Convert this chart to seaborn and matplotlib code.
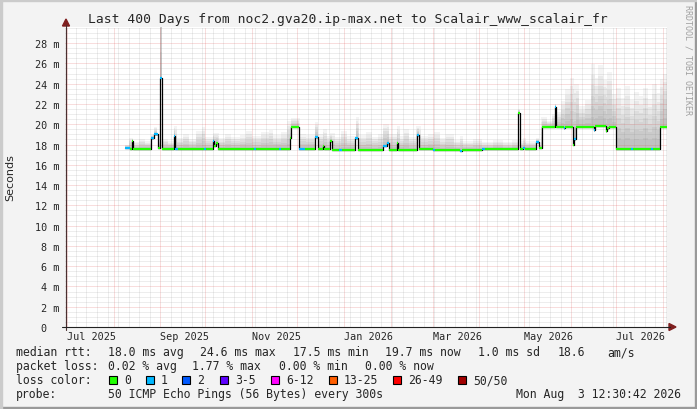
import numpy as np
import pandas as pd
import seaborn as sns
import matplotlib.pyplot as plt
import matplotlib.dates as mdates
from matplotlib.ticker import MultipleLocator, FuncFormatter
from matplotlib.lines import Line2D
from matplotlib.patches import Polygon, Rectangle

W, H = 697, 410

title = "Last 400 Days from noc2.gva20.ip-max.net to Scalair_www_scalair_fr"
t_start = "2025-06-29 12:30"
t_end = "2026-08-03 12:30"

# median rtt (ms), step-wise, with number of lost pings per step
med_time = [
    "2025-08-08 12:00", "2025-08-12 00:00", "2025-08-13 00:00", "2025-08-14 00:00",
    "2025-08-26 00:00", "2025-08-28 00:00", "2025-08-30 12:00", "2025-09-01 00:00",
    "2025-09-02 00:00", "2025-09-10 00:00", "2025-09-11 00:00", "2025-09-13 00:00",
    "2025-09-30 00:00", "2025-10-01 12:00", "2025-10-06 00:00", "2025-10-07 00:00",
    "2025-10-08 00:00", "2025-10-09 12:00", "2025-11-02 00:00", "2025-11-03 12:00",
    "2025-11-19 00:00", "2025-11-20 12:00", "2025-11-26 00:00", "2025-11-27 00:00",
    "2025-12-02 12:00", "2025-12-06 00:00", "2025-12-13 00:00", "2025-12-14 12:00",
    "2025-12-18 00:00", "2025-12-19 00:00", "2025-12-23 00:00", "2025-12-24 00:00",
    "2025-12-29 00:00", "2025-12-30 12:00", "2026-01-08 12:00", "2026-01-10 12:00",
    "2026-01-27 00:00", "2026-01-29 12:00", "2026-01-31 00:00", "2026-02-05 00:00",
    "2026-02-06 00:00", "2026-02-18 12:00", "2026-02-20 00:00", "2026-03-01 00:00",
    "2026-03-02 12:00", "2026-03-19 00:00", "2026-03-20 12:00", "2026-04-03 00:00",
    "2026-04-04 12:00", "2026-04-27 00:00", "2026-04-28 00:00", "2026-04-30 00:00",
    "2026-05-01 12:00", "2026-05-09 00:00", "2026-05-11 00:00", "2026-05-12 12:00",
    "2026-05-21 00:00", "2026-05-22 00:00", "2026-05-27 00:00", "2026-05-28 00:00",
    "2026-06-02 00:00", "2026-06-03 00:00", "2026-06-04 12:00", "2026-06-16 00:00",
    "2026-06-17 00:00", "2026-06-24 00:00", "2026-06-25 00:00", "2026-06-26 00:00",
    "2026-07-01 00:00", "2026-07-11 00:00", "2026-07-12 00:00", "2026-07-24 00:00",
    "2026-07-25 12:00", "2026-07-30 00:00", "2026-08-03 12:30",
]
med_ms = [
    17.7, 17.6, 18.3, 17.6, 18.6, 19.0, 17.7, 24.6, 17.6, 18.8, 17.6, 17.6,
    17.6, 17.6, 18.3, 17.9, 18.1, 17.6, 17.6, 17.6, 17.6, 17.6, 18.6, 19.7,
    17.6, 17.6, 18.7, 17.6, 17.9, 17.6, 18.3, 17.5, 17.5, 17.5, 18.6, 17.5,
    17.9, 18.1, 17.5, 18.1, 17.5, 18.9, 17.6, 17.5, 17.5, 17.4, 17.5, 17.6,
    17.6, 21.1, 17.6, 17.7, 17.6, 18.2, 17.7, 19.7, 21.7, 19.7, 19.6, 19.7,
    18.0, 18.5, 19.7, 19.4, 19.8, 19.3, 19.6, 19.7, 17.6, 17.6, 17.6, 17.6,
    17.6, 19.7, 19.7,
]
med_loss = [
    1, 0, 0, 0, 1, 1, 0, 1, 0, 1, 1, 0,
    1, 0, 1, 0, 0, 0, 1, 0, 1, 0, 0, 0,
    1, 0, 1, 0, 0, 0, 0, 0, 1, 0, 1, 0,
    1, 1, 0, 0, 0, 1, 0, 1, 0, 1, 0, 1,
    0, 0, 0, 1, 0, 1, 0, 0, 1, 0, 1, 0,
    0, 1, 0, 1, 0, 0, 0, 0, 0, 1, 0, 1,
    0, 0, 0,
]

# upper edge of the smoke (ms)
smoke_time = [
    "2025-08-08", "2025-08-11", "2025-08-14", "2025-08-18", "2025-08-22", "2025-08-26",
    "2025-08-28", "2025-08-30", "2025-09-01", "2025-09-02", "2025-09-06", "2025-09-10",
    "2025-09-12", "2025-09-16", "2025-09-20", "2025-09-25", "2025-09-29", "2025-10-01",
    "2025-10-06", "2025-10-10", "2025-10-14", "2025-10-18", "2025-10-24", "2025-10-28",
    "2025-11-01", "2025-11-07", "2025-11-12", "2025-11-15", "2025-11-20", "2025-11-24",
    "2025-11-27", "2025-12-03", "2025-12-07", "2025-12-13", "2025-12-15", "2025-12-18",
    "2025-12-21", "2025-12-23", "2025-12-26", "2025-12-30", "2026-01-03", "2026-01-09",
    "2026-01-11", "2026-01-16", "2026-01-20", "2026-01-24", "2026-01-27", "2026-01-31",
    "2026-02-05", "2026-02-07", "2026-02-10", "2026-02-13", "2026-02-18", "2026-02-21",
    "2026-02-26", "2026-03-02", "2026-03-06", "2026-03-10", "2026-03-15", "2026-03-19",
    "2026-03-21", "2026-03-28", "2026-04-03", "2026-04-10", "2026-04-17", "2026-04-23",
    "2026-04-27", "2026-04-28", "2026-04-30", "2026-05-02", "2026-05-09", "2026-05-11",
    "2026-05-12", "2026-05-16", "2026-05-19", "2026-05-21", "2026-05-22", "2026-05-25",
    "2026-05-28", "2026-05-31", "2026-06-03", "2026-06-06", "2026-06-10", "2026-06-14",
    "2026-06-17", "2026-06-19", "2026-06-22", "2026-06-25", "2026-06-28", "2026-07-01",
    "2026-07-04", "2026-07-07", "2026-07-10", "2026-07-13", "2026-07-16", "2026-07-19",
    "2026-07-22", "2026-07-25", "2026-07-28", "2026-07-30", "2026-08-01",
]
smoke_top = [
    18.0, 18.6, 18.2, 18.5, 18.3, 19.0,
    19.7, 18.4, 40.0, 18.5, 18.3, 19.8,
    18.6, 19.0, 18.5, 19.3, 19.7, 18.7,
    19.1, 18.6, 19.0, 18.7, 18.9, 19.3,
    18.8, 19.2, 19.4, 18.9, 19.2, 20.3,
    20.6, 19.0, 18.9, 20.2, 19.0, 19.5,
    18.8, 19.1, 18.7, 19.3, 18.8, 20.7,
    18.9, 19.2, 18.7, 19.0, 20.0, 19.0,
    19.8, 18.8, 19.5, 18.7, 19.8, 18.8,
    19.0, 19.2, 18.6, 19.0, 18.4, 18.8,
    18.3, 18.5, 18.2, 18.4, 18.2, 18.4,
    21.5, 18.3, 18.6, 18.3, 18.6, 18.0,
    20.7, 20.3, 21.0, 22.0, 21.2, 22.3,
    23.5, 24.6, 24.0, 21.8, 22.4, 25.9,
    24.6, 25.8, 24.4, 25.2, 23.0, 23.6,
    22.6, 23.8, 22.4, 23.2, 22.8, 23.6,
    22.5, 24.0, 23.1, 24.5, 25.0,
]

loss_labels = ["0", "1", "2", "3-5", "6-12", "13-25", "26-49", "50/50"]
loss_colors = ["#20ff00", "#00b8ff", "#0059ff", "#5e00ff", "#ff00ff", "#ff5e00", "#ff0000", "#a10000"]

stats_rtt = ["18.0 ms avg", "24.6 ms max", "17.5 ms min", "19.7 ms now", "1.0 ms sd", "18.6", "am/s"]
stats_loss = ["0.02 % avg", "1.77 % max", "0.00 % min", "0.00 % now"]
probe = "50 ICMP Echo Pings (56 Bytes) every 300s"
stamp = "Mon Aug  3 12:30:42 2026"

sns.set_style("white")
plt.rcParams["font.family"] = ["DejaVu Sans Mono"]

fig = plt.figure(figsize=(W / 100, H / 100), dpi=100, facecolor="#f3f3f3")


def fx(x):
    return x / W


def fy(y):
    return 1 - y / H


ax = fig.add_axes([fx(64.7), fy(328), 602 / W, 300 / H])
ax.set_facecolor("white")

t_med = pd.to_datetime(med_time)
t_smk = pd.to_datetime(smoke_time)
med = np.array(med_ms)

# smoke: layered grey, darker close to the median
grid = t_med.union(t_smk)
grid = grid[grid >= t_med[0]]
i_med = np.searchsorted(t_med.values, grid.values, side="right") - 1
i_smk = np.clip(np.searchsorted(t_smk.values, grid.values, side="right") - 1, 0, None)
base = med[i_med]
top = np.maximum(np.array(smoke_top)[i_smk], base)
n_layers = 6
for k in range(1, n_layers + 1):
    ax.fill_between(grid, base - 0.12, base + (top - base) * k / n_layers,
                    step="post", color="black", alpha=0.042, lw=0, zorder=1)

# median: black step + coloured loss segments
sns.lineplot(x=t_med, y=med, drawstyle="steps-post", color="black", lw=0.9, ax=ax, zorder=3)
for t0, t1, v, l in zip(t_med[:-1], t_med[1:], med[:-1], med_loss[:-1]):
    ax.plot([t0, t1], [v, v], color=loss_colors[l], lw=1.6, solid_capstyle="butt", zorder=4)

ax.set_xlim(pd.Timestamp(t_start), pd.Timestamp(t_end))
ax.set_ylim(0, 29.59)

ax.xaxis.set_major_locator(mdates.MonthLocator())
ax.xaxis.set_minor_locator(mdates.WeekdayLocator(byweekday=mdates.MO))
ax.xaxis.set_major_formatter(FuncFormatter(
    lambda v, p: mdates.num2date(v).strftime("%b %Y") if mdates.num2date(v).month % 2 == 1 else ""))
ax.yaxis.set_major_locator(MultipleLocator(2))
ax.yaxis.set_minor_locator(MultipleLocator(0.5))
ax.yaxis.set_major_formatter(FuncFormatter(lambda v, p: "0  " if v == 0 else f"{v:.0f} m"))

ax.set_axisbelow(False)
ax.grid(True, which="minor", color="#8f8f8f", alpha=0.3, ls=(0, (1, 1)), lw=0.72)
ax.grid(True, which="major", color="#de5050", alpha=0.38, ls=(0, (1, 1)), lw=0.72)

ax.tick_params(which="major", direction="inout", length=4, width=0.7, color="#333",
               labelsize=7.3, pad=2)
ax.tick_params(which="minor", direction="inout", length=2, width=0.7, color="#555")
ax.tick_params(axis="x", pad=1)
for lbl in ax.get_xticklabels():
    lbl.set_ha("left")

for s in ax.spines.values():
    s.set_visible(False)
ax.set_xlabel("")
ax.set_ylabel("Seconds", family="DejaVu Sans", fontsize=8)
ax.yaxis.set_label_coords(-0.082, 0.5)

# axes with arrows
fig.add_artist(Line2D([fx(66), fx(66)], [fy(331), fy(26)], color="#4a3030", lw=0.8))
fig.add_artist(Line2D([fx(62), fx(670)], [fy(328), fy(328)], color="#222", lw=0.8))
fig.add_artist(Polygon([[fx(66), fy(20)], [fx(62.5), fy(27)], [fx(69.5), fy(27)]],
                       closed=True, color="#7f1f1f", transform=fig.transFigure))
fig.add_artist(Polygon([[fx(676), fy(328)], [fx(669), fy(324.5)], [fx(669), fy(331.5)]],
                       closed=True, color="#7f1f1f", transform=fig.transFigure))

fig.text(fx(348), fy(19), title, ha="center", va="center", fontsize=9.4)
fig.text(fx(688), fy(5), "RRDTOOL / TOBI OETIKER", rotation=270, ha="center", va="top",
         fontsize=6, color="#a0a0a0")

# legend block
ly = [353, 367, 381, 395]
fs = 8.3
fig.text(fx(16), fy(ly[0]), "median rtt:", va="center", fontsize=fs)
for x, s in zip([108, 200, 293, 385, 478, 558, 607], stats_rtt):
    fig.text(fx(x), fy(ly[0]), s, va="center", fontsize=fs)
fig.text(fx(16), fy(ly[1]), "packet loss:", va="center", fontsize=fs)
for x, s in zip([108, 192, 279, 365], stats_loss):
    fig.text(fx(x), fy(ly[1]), s, va="center", fontsize=fs)
fig.text(fx(16), fy(ly[2]), "loss color:", va="center", fontsize=fs)
for x, s, c in zip([109, 146, 182, 220, 271, 329, 393, 458], loss_labels, loss_colors):
    fig.add_artist(Rectangle((fx(x), fy(ly[2] + 4)), 8 / W, 8 / H, facecolor=c,
                             edgecolor="black", lw=0.8, transform=fig.transFigure))
    fig.text(fx(x + 15), fy(ly[2]), s, va="center", fontsize=fs)
fig.text(fx(16), fy(ly[3]), "probe:", va="center", fontsize=fs)
fig.text(fx(108), fy(ly[3]), probe, va="center", fontsize=fs)
fig.text(fx(681), fy(ly[3]), stamp, ha="right", va="center", fontsize=fs)

# 3d frame
fig.add_artist(Rectangle((0, 0), 1, 2 / H, color="#999999", transform=fig.transFigure))
fig.add_artist(Rectangle((1 - 2 / W, 0), 2 / W, 1, color="#999999", transform=fig.transFigure))
fig.add_artist(Rectangle((0, 1 - 2 / H), 1, 2 / H, color="#cbcbcb", transform=fig.transFigure))
fig.add_artist(Rectangle((0, 0), 2 / W, 1, color="#cbcbcb", transform=fig.transFigure))

fig.savefig("out.png", dpi=100, facecolor=fig.get_facecolor())
